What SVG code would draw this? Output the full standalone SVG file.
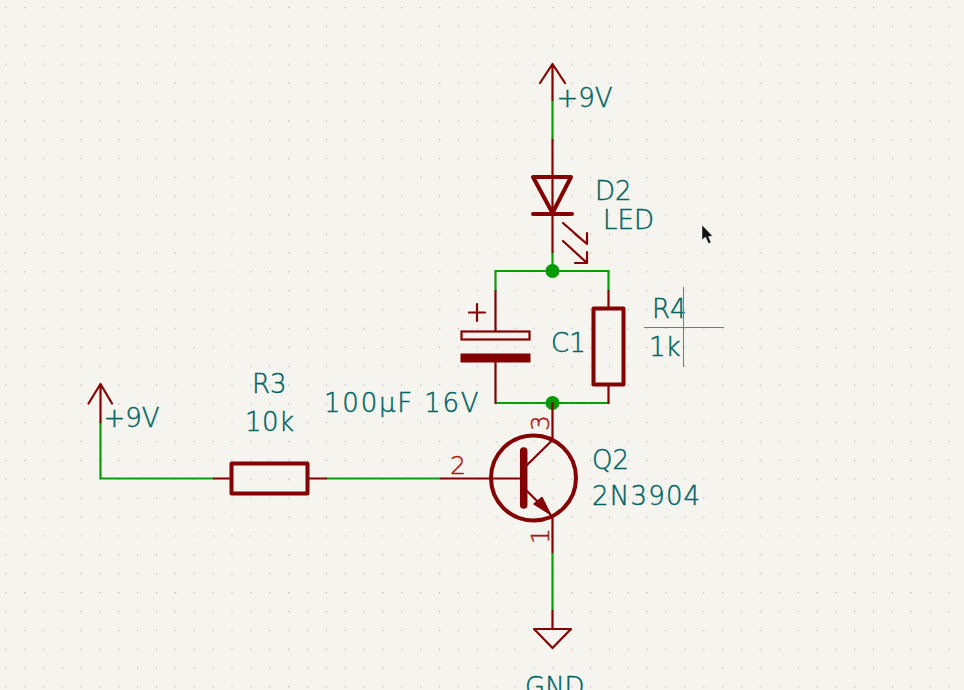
<svg xmlns="http://www.w3.org/2000/svg" width="964" height="690" viewBox="0 0 964 690">
<style>
.w{fill:none;stroke:#0a9c0a;stroke-width:2.2;stroke-linejoin:miter}
.p{fill:none;stroke:#840000;stroke-width:2.2;stroke-linecap:round;stroke-linejoin:round}
.b{fill:none;stroke:#840000;stroke-width:4;stroke-linejoin:round;stroke-linecap:round}
.f{fill:#840000;stroke:#840000;stroke-width:1}
.j{fill:#009a00}
text{font-family:"DejaVu Sans",sans-serif;font-weight:200;font-size:26px;fill:#006464;stroke:#006464;stroke-width:0.45}
.n{fill:#a51818;stroke:#a51818;font-size:25px}
</style>
<defs>
<pattern id="grid" x="5" y="7" width="18.87" height="18.87" patternUnits="userSpaceOnUse"><rect width="1.2" height="1.2" fill="#b5b5b0"/></pattern>
</defs>
<rect width="964" height="690" fill="#f5f4ef"/>
<rect width="964" height="690" fill="url(#grid)"/>
<g id="connectors">
<path class="w" d="M552.5 100V140M552.5 252V271M495.5 291V271H608.500V291M495.5 403H608.500M552.5 552V611M100.5 422V478.500H214M326 478.500H441"/>
</g>
<g id="pwr1">
<path class="p" d="M552.500 100V64M540 83L552.500 64L565 83"/>
<text x="556.500" y="107">+9V</text>
</g>
<g id="D2">
<path class="p" d="M552.500 140V252"/>
<path class="b" d="M533 177H571L552.500 213Z"/>
<path class="b" d="M533 214H572"/>
<path class="p" d="M563 223L587 244M575 234L587 244V233M563 241L587 263M575 263H587V252"/>
<text x="595" y="200">D2</text>
<text x="603" y="229">LED</text>
</g>
<g id="C1">
<path class="p" d="M495.500 291V331M495.500 362V403M469 312.500H485M477 304V321"/>
<rect x="461.500" y="331.500" width="68" height="8" fill="none" stroke="#840000" stroke-width="2.200"/>
<rect x="461" y="354" width="69" height="8" class="f"/>
<text x="551" y="352">C1</text>
<text x="324" y="412" letter-spacing="1.800">100µF 16V</text>
</g>
<g id="R4">
<path class="p" d="M608.500 291V308M608.500 385V403"/>
<rect x="593.500" y="308.500" width="30" height="76" class="b"/>
<text x="652" y="318">R4</text>
<text x="649" y="356">1k</text>
</g>
<g id="j1"><circle class="j" cx="552.500" cy="271" r="7"/></g>
<g id="j2"><circle class="j" cx="552.500" cy="403" r="7"/></g>
<g id="Q2">
<circle cx="533.500" cy="478" r="42.500" class="b"/>
<path d="M523.700 451V505" fill="none" stroke="#840000" stroke-width="7.500" stroke-linecap="round"/>
<path class="p" d="M552.500 403V440L527 465M441 478.500H521M527 491L550 514M552.500 516V552"/>
<path class="f" d="M551 515L533.500 504L542 497Z"/>
<text class="n" x="450" y="474">2</text>
<text class="n" transform="translate(549 431) rotate(-90)">3</text>
<text class="n" transform="translate(549 544) rotate(-90)">1</text>
<text x="592" y="469">Q2</text>
<text x="592" y="505" letter-spacing="1.200">2N3904</text>
</g>
<g id="gnd">
<path class="p" d="M552.500 611V629M534 629H571L552.500 648Z"/>
<text x="525" y="696">GND</text>
</g>
<g id="pwr2">
<path class="p" d="M100.500 422V384M88.500 403.500L100.500 384L112 403.500"/>
<text x="103.500" y="427">+9V</text>
</g>
<g id="R3">
<path class="p" d="M214 478.500H231M308 478.500H326"/>
<rect x="231.500" y="463.500" width="76" height="30" class="b"/>
<text x="252" y="393">R3</text>
<text x="245" y="431" letter-spacing="0.500">10k</text>
</g>
<g id="crosshair"><path d="M644 327.500H724M683.500 287V367" stroke="#7a7a7a" stroke-width="1" fill="none"/></g>
<g id="cursor"><path d="M702 225V240L705.500 237L708.500 243.500L711 242.500L708.500 236.500L712.500 236Z" fill="#111" stroke="#eee" stroke-width="0.500"/></g>
</svg>
